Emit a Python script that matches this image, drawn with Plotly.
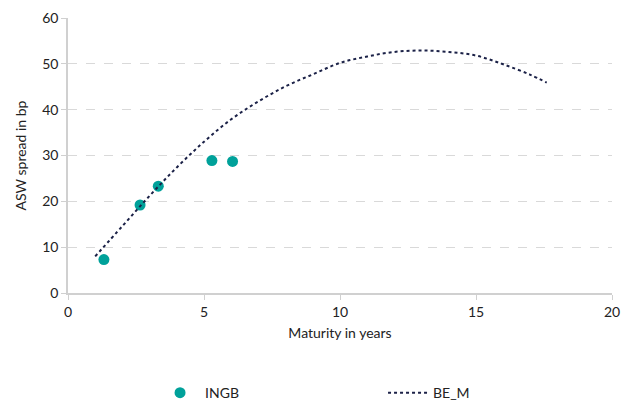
import plotly.graph_objects as go

# Data
ingb_x = [1.32, 2.65, 3.32, 5.29, 6.05]
ingb_y = [7.3, 19.2, 23.3, 28.9, 28.7]

be_x = [1.0, 2, 3, 4, 5, 6, 7, 8, 9, 10, 11, 12, 13, 14, 15, 16, 17, 17.6]
be_y = [8.0, 14.6, 21.2, 27.4, 33.0, 37.9, 41.8, 45.1, 47.7, 50.2, 51.6, 52.6, 52.9, 52.6, 51.8, 49.9, 47.6, 45.9]

x_ticks = [0, 5, 10, 15, 20]
y_ticks = [0, 10, 20, 30, 40, 50, 60]

FONT = "Lato"
TEAL = "#00a19a"
NAVY = "#1b2147"

fig = go.Figure()
fig.add_trace(go.Scatter(x=ingb_x, y=ingb_y, mode="markers", name="INGB",
                         marker=dict(color=TEAL, size=11)))
fig.add_trace(go.Scatter(x=be_x, y=be_y, mode="lines", name="BE_M", line_shape="spline",
                         line=dict(color=NAVY, width=2, dash="dot")))

fig.update_layout(
    width=634, height=403,
    margin=dict(l=68, r=22, t=18, b=110, autoexpand=False),
    paper_bgcolor="white", plot_bgcolor="white",
    font=dict(family=FONT, size=14, color="#222222"),
    showlegend=True,
    legend=dict(orientation="h", x=0.16, y=-0.364, xanchor="left", yanchor="middle",
                itemwidth=40, entrywidth=173, entrywidthmode="pixels",
                bgcolor="rgba(0,0,0,0)",
                font=dict(family=FONT, size=14, color="#222222")),
    xaxis=dict(range=[0, 20], tickvals=x_ticks, showgrid=False, zeroline=False,
               showline=True, linecolor="#d0d0d0", linewidth=1.5,
               ticks="outside", ticklen=5, tickcolor="#d0d0d0",
               title=dict(text="Maturity in years", standoff=10, font=dict(size=14))),
    yaxis=dict(range=[0, 60], tickvals=y_ticks, showgrid=True, gridcolor="#d9d9d9",
               griddash="dash", gridwidth=1, zeroline=False,
               showline=True, linecolor="#d0d0d0", linewidth=1.5,
               ticks="outside", ticklen=5, tickcolor="#d0d0d0",
               title=dict(text="ASW spread in bp", standoff=12, font=dict(size=14))),
)

fig.write_html("out.html", config={"displayModeBar": False},
               post_script="document.body.style.margin='0';document.body.style.overflow='hidden';")
